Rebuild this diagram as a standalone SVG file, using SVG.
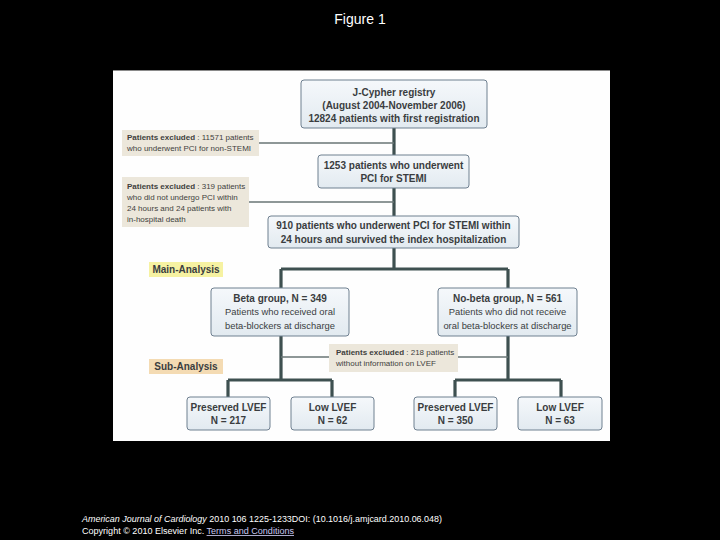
<svg xmlns="http://www.w3.org/2000/svg" width="720" height="540" viewBox="0 0 720 540">
<defs>
<linearGradient id="bf" x1="0" y1="0" x2="0" y2="1">
<stop offset="0" stop-color="#f5f8fb"/>
<stop offset="1" stop-color="#e2eaf0"/>
</linearGradient>
</defs>
<style>
.t{font-family:"Liberation Sans",Arial,sans-serif;fill:#3a3d3f;text-anchor:middle}
.b{font-weight:bold}
.r{font-size:9.4px}
.box{fill:url(#bf);stroke:#6f8090;stroke-width:1}
.ex{fill:#ece7db}
.s{font-family:"Liberation Sans",Arial,sans-serif;fill:#3f3f3d;font-size:8px}
.main{stroke:#3e5050;stroke-width:3.2;fill:none}
.thin{stroke:#6a7676;stroke-width:1.6;fill:none}
.w{font-family:"Liberation Sans",Arial,sans-serif;fill:#ffffff}
</style>
<rect width="720" height="540" fill="#000"/>
<text class="w" x="360" y="24" font-size="14" text-anchor="middle">Figure 1</text>
<rect x="113" y="70" width="497" height="371" fill="#fefefe"/>
<line x1="113" y1="70.5" x2="610" y2="70.5" stroke="#8a8a8a" stroke-width="1"/>

<g id="connectors">
<path class="main" d="M394 128V216M394 248V269M281 269H508M281 269V288M508 269V288M281 336V380M508 336V380M228 380H332M228 380V397M332 380V397M455 380H561M455 380V397M561 380V397"/>
<path class="thin" d="M259 143H394M249 202H394M281 357H329M458 357H508"/>
</g>

<g id="registry">
<rect class="box" x="301" y="80" width="186" height="48" rx="3"/>
<text class="t b" font-size="10"><tspan x="394" y="96">J-Cypher registry</tspan><tspan x="394" y="109">(August 2004-November 2006)</tspan><tspan x="394" y="122">12824 patients with first registration</tspan></text>
</g>

<g id="excl1">
<rect class="ex" x="122" y="130" width="137" height="26"/>
<text class="s"><tspan x="127" y="140"><tspan font-weight="bold">Patients excluded</tspan> : 11571 patients</tspan><tspan x="127" y="151">who underwent PCI for non-STEMI</tspan></text>
</g>

<g id="stemi">
<rect class="box" x="318" y="155" width="151" height="33" rx="3"/>
<text class="t b" font-size="10"><tspan x="393.5" y="169">1253 patients who underwent</tspan><tspan x="393.5" y="182">PCI for STEMI</tspan></text>
</g>

<g id="excl2">
<rect class="ex" x="122" y="177" width="127" height="50"/>
<text class="s"><tspan x="127" y="189"><tspan font-weight="bold">Patients excluded</tspan> : 319 patients</tspan><tspan x="127" y="200">who did not undergo PCI within</tspan><tspan x="127" y="211">24 hours and 24 patients with</tspan><tspan x="127" y="222">in-hospital death</tspan></text>
</g>

<g id="survived">
<rect class="box" x="268" y="216" width="251" height="32" rx="3"/>
<text class="t b" font-size="10"><tspan x="393.5" y="229">910 patients who underwent PCI for STEMI within</tspan><tspan x="393.5" y="243">24 hours and survived the index hospitalization</tspan></text>
</g>

<g id="main-analysis">
<rect x="149" y="262" width="74" height="15" fill="#f6f2a2"/>
<text class="t b" font-size="10" x="186" y="273">Main-Analysis</text>
</g>

<g id="beta">
<rect class="box" x="211" y="288" width="138" height="48" rx="3"/>
<text class="t" font-size="10"><tspan x="280" y="302" font-weight="bold">Beta group, N = 349</tspan><tspan class="r" x="280" y="315">Patients who received oral</tspan><tspan class="r" x="280" y="329">beta-blockers at discharge</tspan></text>
</g>

<g id="nobeta">
<rect class="box" x="438" y="288" width="139" height="48" rx="3"/>
<text class="t" font-size="10"><tspan x="507.5" y="302" font-weight="bold">No-beta group, N = 561</tspan><tspan class="r" x="507.5" y="315">Patients who did not receive</tspan><tspan class="r" x="507.5" y="329">oral beta-blockers at discharge</tspan></text>
</g>

<g id="excl3">
<rect class="ex" x="329" y="344" width="129" height="28"/>
<text class="s"><tspan x="336" y="355"><tspan font-weight="bold">Patients excluded</tspan> : 218 patients</tspan><tspan x="336" y="366">without information on LVEF</tspan></text>
</g>

<g id="sub-analysis">
<rect x="149" y="359" width="74" height="15" fill="#f4dbb3"/>
<text class="t b" font-size="10" x="186" y="370">Sub-Analysis</text>
</g>

<g id="beta-preserved">
<rect class="box" x="187" y="397" width="83" height="33" rx="3"/>
<text class="t b" font-size="10"><tspan x="228.5" y="411">Preserved LVEF</tspan><tspan x="228.5" y="424">N = 217</tspan></text>
</g>
<g id="beta-low">
<rect class="box" x="291" y="397" width="83" height="33" rx="3"/>
<text class="t b" font-size="10"><tspan x="332.5" y="411">Low LVEF</tspan><tspan x="332.5" y="424">N = 62</tspan></text>
</g>
<g id="nobeta-preserved">
<rect class="box" x="414" y="397" width="83" height="33" rx="3"/>
<text class="t b" font-size="10"><tspan x="455.5" y="411">Preserved LVEF</tspan><tspan x="455.5" y="424">N = 350</tspan></text>
</g>
<g id="nobeta-low">
<rect class="box" x="518" y="397" width="84" height="33" rx="3"/>
<text class="t b" font-size="10"><tspan x="560" y="411">Low LVEF</tspan><tspan x="560" y="424">N = 63</tspan></text>
</g>

<text class="w" font-size="8.5" x="82" y="522" textLength="360" lengthAdjust="spacingAndGlyphs"><tspan font-style="italic">American Journal of Cardiology</tspan> 2010 106 1225-1233DOI: (10.1016/j.amjcard.2010.06.048)</text>
<text class="w" font-size="8.5" x="82" y="534" textLength="212" lengthAdjust="spacingAndGlyphs">Copyright © 2010 Elsevier Inc. <tspan fill="#c8c8f0" text-decoration="underline">Terms and Conditions</tspan></text>
</svg>
